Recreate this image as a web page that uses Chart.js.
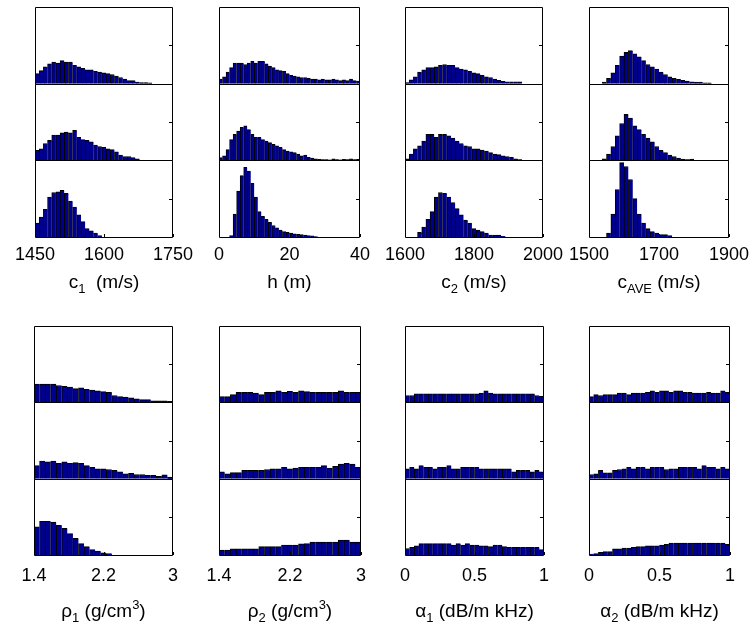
<!DOCTYPE html>
<html>
<head>
<meta charset="utf-8">
<script src="https://cdn.jsdelivr.net/npm/chart.js@4/dist/chart.umd.min.js"></script>
<style>
body { margin:0; background:#fff; width:754px; height:627px; position:relative; overflow:hidden; font-family:"Liberation Sans", Arial, sans-serif; }
canvas { position:absolute; }
.xlab { position:absolute; text-align:center; font-size:19px; line-height:22px; color:#000; white-space:nowrap; }
.xlab sub { font-size:13px; vertical-align:-5px; line-height:0; }
.xlab sup { font-size:13px; vertical-align:8px; line-height:0; }
</style>
</head>
<body>
<script>
// tick labels (first and last are the axis limits)
const c1Ticks = [1450, 1600, 1750];
const hTicks = [0, 20, 40];
const c2Ticks = [1600, 1800, 2000];
const cAveTicks = [1500, 1700, 1900];
const rho1Ticks = [1.4, 2.2, 3];
const rho2Ticks = [1.4, 2.2, 3];
const a1Ticks = [0, 0.5, 1];
const a2Ticks = [0, 0.5, 1];

// histogram heights, % of the sub-axis height (top, middle, bottom stage)
const c1Top = [13, 17, 22, 26, 28, 27, 30, 28, 28, 24, 22, 20, 18, 18, 16, 15, 14, 13, 12, 10, 8, 6, 4, 4, 2, 1.5, 1.5, 1, 0, 0, 0, 0, 0];
const c1Mid = [13, 15, 22, 26, 33, 33, 36, 37, 36, 39, 30, 27, 26, 24, 20, 18, 17, 15, 14, 11, 7, 5, 5, 3.5, 2, 0, 0, 0, 0, 0, 0, 0, 0];
const c1Bot = [18, 26, 36, 52, 58, 59, 61, 57, 47, 39, 29, 20, 11, 8, 5, 2, 0, 0, 0, 0, 0, 0, 0, 0, 0, 0, 0, 0, 0, 0, 0, 0, 0];

const hTop = [6, 9, 15, 21, 27, 27, 27, 25, 27, 29, 27, 29, 29, 26, 23, 21, 18, 17, 16, 13, 11, 10, 9, 8, 8, 7, 6, 6, 5, 6, 5, 5, 6, 5, 4, 5, 4, 6, 4, 3.5];
const hMid = [3.5, 6, 14, 27, 34, 38, 43, 45, 40, 34, 30, 30, 27, 25, 23, 21, 19, 17, 14, 12, 11, 10, 8, 6, 7, 4, 3, 2, 1.3, 1, 1, 0.5, 2, 1, 0.5, 1.3, 1, 2, 1, 1.3];
const hBot = [0, 0, 0, 2, 30, 60, 80, 91, 86, 70, 52, 33, 27, 23, 19, 15, 12, 9, 7, 6, 5, 4, 3.5, 3, 2.5, 2, 1.5, 0.5, 0, 0, 0, 0, 0, 0, 0, 0, 0, 0, 0, 0];

const c2Top = [1.3, 5, 9, 15, 18, 21, 21, 22, 24, 25, 24, 24, 21, 19, 18, 16, 14, 13, 11, 9, 8, 6, 4.5, 3, 2.5, 2.5, 2.5, 2.5, 0, 0, 0, 0, 0];
const c2Mid = [2, 8, 15, 19, 25, 34, 34, 30, 34, 34, 32, 29, 25, 22, 19, 18, 15, 15, 13.5, 12, 10, 8, 7.5, 6, 5, 4, 2, 1, 0, 0, 0, 0, 0];
const c2Bot = [0, 0, 0, 6, 13, 23, 33, 52, 58, 57, 52, 45, 37, 29, 22, 18, 11, 9, 7, 5, 2.5, 2.5, 2.5, 1, 0, 0, 0, 0, 0, 0, 0, 0, 0];

const cAveTop = [0, 0, 0, 2, 7, 14, 24, 36, 41, 43, 39, 35, 30, 25, 22, 19, 15, 12, 9, 7, 5.5, 4.5, 3.5, 2.5, 2, 2, 1, 1, 0, 0, 0, 0];
const cAveMid = [0, 0, 0, 2, 8, 18, 32, 48, 60, 55, 45, 40, 34, 29, 24, 18, 13, 10, 7, 5, 3, 1.5, 1, 1.5, 0, 0, 0, 0, 0, 0, 0, 0];
const cAveBot = [0, 0, 0, 0, 5, 30, 62, 97, 92, 75, 50, 30, 18, 11, 7, 5, 3, 3, 2, 0, 0, 0, 0, 0, 0, 0, 0, 0, 0, 0, 0, 0];

const rho1Top = [24, 24, 24, 24, 22, 21, 20, 18, 19, 17, 16, 15, 14, 13, 9, 7.5, 7, 6, 4.5, 3.5, 3.5, 2, 2, 2, 1.3];
const rho1Mid = [17, 23, 22, 23, 20, 22, 20, 21, 20, 17, 15, 13, 13, 12, 11, 9, 6.5, 7, 5.5, 5.5, 4.5, 4.5, 3, 5, 2];
const rho1Bot = [37, 44, 44, 43, 39, 35, 28, 22, 15, 11, 7, 5, 3, 2, 0, 0, 0, 0, 0, 0, 0, 0, 0, 0, 0];

const rho2Top = [7.5, 7.5, 10, 13, 13, 13, 12, 10, 13, 13, 15, 13, 14.5, 13, 15, 14, 13, 13, 13, 13, 13, 15, 13, 13, 13];
const rho2Mid = [9, 6.5, 8, 8, 11, 11, 11, 11, 12, 13, 13, 15, 13, 14, 15, 15, 15, 15, 17, 14, 16, 19, 20, 19, 15];
const rho2Bot = [6.5, 6.5, 8, 8, 8, 8, 8, 11, 11, 11, 11, 13, 13, 13, 14.5, 15, 17, 17, 17, 17, 17, 19.5, 19.5, 17, 17];

const a1Top = [9, 9, 11, 11, 11, 11, 11, 11, 11, 11, 11, 11, 11, 11, 11, 11, 12, 15, 12, 11, 11, 11, 11, 11, 11, 11, 11, 11, 9, 8];
const a1Mid = [13, 15, 13, 17, 15, 15, 13, 15, 15, 17, 13, 13, 15, 15, 15, 15, 13, 13, 13, 13, 13, 13, 13, 9, 11, 11, 11, 9, 11, 9];
const a1Bot = [8.5, 10, 12, 15, 15, 15, 15, 15, 15, 15, 13, 15, 13, 15, 13, 13, 12, 12, 11, 13, 13, 11, 10, 10, 10, 10, 10, 10, 10, 7];

const a2Top = [7.5, 10, 9, 10, 10, 10, 12, 12, 10, 12, 12, 12, 13, 15, 13, 15, 15, 13, 15, 15, 13, 13, 12, 12, 12, 13, 12, 12, 15, 13];
const a2Mid = [5.5, 6.5, 11, 7.5, 7.5, 11, 12, 13, 15, 13, 15, 15, 13, 15, 15, 15, 12, 13, 13, 15, 15, 15, 15, 13, 17, 15, 15, 13, 15, 13];
const a2Bot = [1.3, 2, 3.5, 4.5, 4.5, 8, 8, 9, 9, 10, 11, 11, 12, 12, 12, 13, 14, 15.5, 15.5, 15.5, 15.5, 15.5, 15.5, 15.5, 15.5, 15.5, 15.5, 15.5, 15.5, 14];

const yMax = 100, yTick = 50;

// page layout of the 8 panels
const rows = [
  { top: 7, bottom: 237, tickPad: 7, titleTop: 271 },
  { top: 326, bottom: 555, tickPad: 10, titleTop: 600 }
];
const panels = [
  { row: 0, left: 35, right: 173, ticks: c1Ticks, series: [c1Top, c1Mid, c1Bot], title: 'c<sub>1</sub>&nbsp; (m/s)' },
  { row: 0, left: 219, right: 360, ticks: hTicks, series: [hTop, hMid, hBot], title: 'h (m)' },
  { row: 0, left: 405, right: 543, ticks: c2Ticks, series: [c2Top, c2Mid, c2Bot], title: 'c<sub>2</sub> (m/s)' },
  { row: 0, left: 589, right: 729, ticks: cAveTicks, series: [cAveTop, cAveMid, cAveBot], title: 'c<sub>AVE</sub> (m/s)' },
  { row: 1, left: 34, right: 173, ticks: rho1Ticks, series: [rho1Top, rho1Mid, rho1Bot], title: '\u03c1<sub>1</sub> (g/cm<sup>3</sup>)' },
  { row: 1, left: 219, right: 361, ticks: rho2Ticks, series: [rho2Top, rho2Mid, rho2Bot], title: '\u03c1<sub>2</sub> (g/cm<sup>3</sup>)' },
  { row: 1, left: 405, right: 544, ticks: a1Ticks, series: [a1Top, a1Mid, a1Bot], title: '\u03b1<sub>1</sub> (dB/m kHz)' },
  { row: 1, left: 589, right: 730, ticks: a2Ticks, series: [a2Top, a2Mid, a2Bot], title: '\u03b1<sub>2</sub> (dB/m kHz)' }
];

//frame, separators and inward ticks like the matlab axes
const framePlugin = {
  id: 'frame',
  afterDatasetsDraw(chart) {
    const ctx = chart.ctx, a = chart.chartArea, xs = chart.scales.x;
    ctx.save();
    ctx.strokeStyle = '#000';
    ctx.lineWidth = 1;
    ctx.beginPath();
    ['s0', 's1', 's2'].forEach(id => {
      const s = chart.scales[id];
      const t = Math.round(s.top) + 0.5, b = Math.round(s.bottom) + 0.5;
      ctx.rect(Math.round(a.left) + 0.5, t, Math.round(a.right - a.left) - 1, b - t);
      const ty = Math.round(s.getPixelForValue(yTick)) + 0.5;
      ctx.moveTo(a.right - 1, ty);
      ctx.lineTo(a.right - 4, ty);
    });
    xs.ticks.forEach(tk => {
      const x = Math.round(xs.getPixelForValue(tk.value)) + 0.5;
      ctx.moveTo(x, a.bottom);
      ctx.lineTo(x, a.bottom - 3);
    });
    ctx.stroke();
    ctx.restore();
  }
};

function makePanel(p) {
  const r = rows[p.row];
  const padL = 30, padR = 30, padT = 5, axisH = 40;
  const w = p.right - p.left + padL + padR;
  const h = r.bottom - r.top + padT + axisH;
  const cv = document.createElement('canvas');
  cv.width = w;
  cv.height = h;
  cv.style.left = (p.left - padL) + 'px';
  cv.style.top = (r.top - padT) + 'px';
  document.body.appendChild(cv);

  const lo = p.ticks[0], hi = p.ticks[p.ticks.length - 1];
  const scales = {
    x: {
      type: 'linear', min: lo, max: hi, offset: false,
      afterBuildTicks: s => { s.ticks = p.ticks.map(v => ({ value: v })); },
      afterFit: s => { s.height = axisH; },
      grid: { display: false, drawTicks: false },
      border: { display: false },
      ticks: {
        padding: r.tickPad, color: '#000', maxRotation: 0, autoSkip: false,
        font: { family: '"Liberation Sans", Arial, sans-serif', size: 18 },
        callback: v => String(v)
      }
    }
  };
  // stacked sub-axes: the first one registered lands at the bottom, so go bottom-up
  for (let k = p.series.length - 1; k >= 0; k--) {
    scales['s' + k] = {
      type: 'linear', min: 0, max: yMax, stack: 'sub', stackWeight: 1, offset: false, position: 'left',
      ticks: { display: false }, grid: { display: false, drawTicks: false }, border: { display: false },
      afterFit: s => { s.width = 0; }
    };
  }
  const datasets = p.series.map((vals, k) => {
    const bw = (hi - lo) / vals.length;
    return {
      data: vals.map((v, i) => ({ x: lo + (i + 0.5) * bw, y: v })),
      yAxisID: 's' + k,
      backgroundColor: '#00008f',
      borderColor: '#000',
      borderWidth: { top: 1, left: 1, right: 0, bottom: 0 },
      barPercentage: 1,
      categoryPercentage: 1,
      grouped: false
    };
  });

  new Chart(cv, {
    type: 'bar',
    data: { datasets: datasets },
    options: {
      responsive: false,
      animation: false,
      events: [],
      layout: { padding: { left: padL, right: padR, top: padT, bottom: 0 } },
      plugins: { legend: { display: false }, tooltip: { enabled: false } },
      scales: scales
    },
    plugins: [framePlugin]
  });

  const lab = document.createElement('div');
  lab.className = 'xlab';
  lab.style.left = (p.left - padL) + 'px';
  lab.style.width = w + 'px';
  lab.style.top = r.titleTop + 'px';
  lab.innerHTML = p.title;
  document.body.appendChild(lab);
}

panels.forEach(makePanel);
</script>
</body>
</html>
